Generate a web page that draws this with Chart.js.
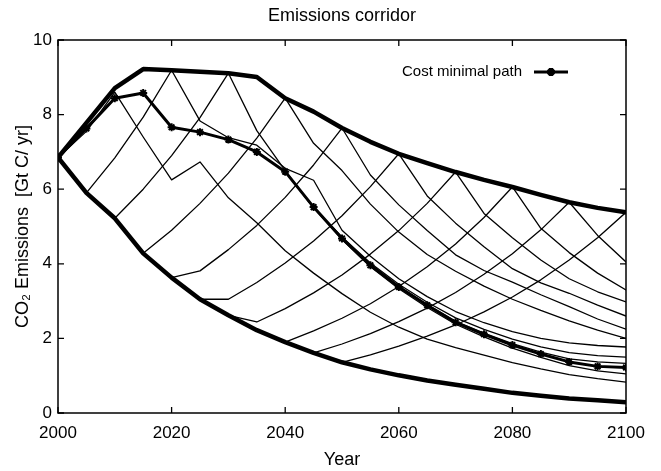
<!DOCTYPE html>
<html><head><meta charset="utf-8">
<script src="https://cdn.jsdelivr.net/npm/chart.js@4/dist/chart.umd.min.js"></script>
<style>html,body{margin:0;padding:0;background:#fff;}#wrap{width:661px;height:471px;}</style>
</head><body><div id="wrap"><canvas id="c" width="661" height="471"></canvas></div>
<script>
// ---- data ----
const years = [2000,2005,2010,2015,2020,2025,2030,2035,2040,2045,2050,2055,2060,2065,2070,2075,2080,2085,2090,2095,2100];
const xTicks = [2000,2020,2040,2060,2080,2100];
const yTicks = [0,2,4,6,8,10];

const upperBound = [6.85,7.78,8.71,9.22,9.19,9.15,9.11,9.01,8.44,8.08,7.64,7.27,6.95,6.70,6.46,6.25,6.06,5.85,5.65,5.50,5.38];
const lowerBound = [6.85,5.90,5.22,4.28,3.63,3.05,2.62,2.22,1.90,1.61,1.36,1.17,1.01,0.87,0.76,0.65,0.54,0.46,0.39,0.34,0.29];
const costMinimal = [6.85,7.63,8.44,8.58,7.66,7.53,7.33,7.00,6.47,5.52,4.68,3.96,3.38,2.89,2.43,2.11,1.82,1.58,1.37,1.25,1.22];

// paths rising from the lower bound
const rise2005 = [null,5.90,6.84,7.93,9.19,null,null,null,null,null,null,null,null,null,null,null,null,null,null,null,null];
const rise2010 = [null,null,5.22,6.00,6.90,7.92,9.11,null,null,null,null,null,null,null,null,null,null,null,null,null,null];
const rise2015 = [null,null,null,4.28,4.90,5.62,6.43,7.37,8.44,null,null,null,null,null,null,null,null,null,null,null,null];
const rise2020 = [null,null,null,null,3.63,3.81,4.38,5.03,5.78,6.65,7.64,null,null,null,null,null,null,null,null,null,null];
const rise2025 = [null,null,null,null,null,3.05,3.05,3.50,4.02,4.61,5.29,6.07,6.95,null,null,null,null,null,null,null,null];
const rise2030 = [null,null,null,null,null,null,2.62,2.44,2.80,3.22,3.70,4.26,4.89,5.62,6.46,null,null,null,null,null,null];
const rise2040 = [null,null,null,null,null,null,null,null,1.90,2.20,2.54,2.93,3.39,3.92,4.53,5.24,6.06,null,null,null,null];
const rise2045 = [null,null,null,null,null,null,null,null,null,1.61,1.85,2.13,2.45,2.81,3.23,3.72,4.27,4.91,5.65,null,null];
const rise2050 = [null,null,null,null,null,null,null,null,null,null,1.36,1.56,1.79,2.06,2.36,2.71,3.11,3.57,4.10,4.70,5.38];

// paths falling from the upper bound
const fall2010 = [6.85,7.55,8.60,7.40,6.25,6.73,5.77,5.10,4.35,3.75,3.20,2.70,2.30,1.98,1.75,1.55,1.35,1.18,1.03,0.92,0.83];
const fall2020 = [null,null,null,null,9.19,7.83,7.38,7.18,6.56,6.24,4.90,4.20,3.60,3.12,2.72,2.42,2.18,2.00,1.88,1.81,1.77];
const fall2030 = [null,null,null,null,null,null,9.11,7.57,6.50,5.50,4.72,4.02,3.45,2.97,2.55,2.24,1.98,1.77,1.62,1.54,1.50];
const fall2040 = [null,null,null,null,null,null,null,null,8.44,7.23,6.50,5.60,4.85,4.25,3.80,3.40,3.05,2.75,2.47,2.22,2.00];
const fall2050 = [null,null,null,null,null,null,null,null,null,null,7.64,6.38,5.58,4.89,4.24,3.82,3.51,3.17,2.85,2.52,2.25];
const fall2060 = [null,null,null,null,null,null,null,null,null,null,null,null,6.95,5.82,5.09,4.46,3.87,3.49,3.21,2.89,2.60];
const fall2070 = [null,null,null,null,null,null,null,null,null,null,null,null,null,null,6.46,5.35,4.70,4.10,3.60,3.25,2.98];
const fall2080 = [null,null,null,null,null,null,null,null,null,null,null,null,null,null,null,null,6.06,4.95,4.30,3.75,3.30];
const fall2090 = [null,null,null,null,null,null,null,null,null,null,null,null,null,null,null,null,null,null,5.65,4.76,4.05];

// thin paths running alongside the cost-minimal path
const nearCostA = [6.85,7.63,8.44,8.58,7.66,7.53,7.33,7.00,6.47,5.52,4.70,3.99,3.40,2.91,2.46,2.14,1.86,1.63,1.45,1.37,1.33];
const nearCostB = [6.85,7.63,8.44,8.58,7.66,7.53,7.33,7.00,6.47,5.50,4.65,3.92,3.33,2.83,2.38,2.04,1.74,1.49,1.27,1.13,1.05];

const thinPaths = [rise2005,rise2010,rise2015,rise2020,rise2025,rise2030,rise2040,rise2045,rise2050,
                   fall2010,fall2020,fall2030,fall2040,fall2050,fall2060,fall2070,fall2080,fall2090,
                   nearCostA,nearCostB];

const chartTitle = 'Emissions corridor';
const xTitle = 'Year';
const yTitle = 'CO₂ Emissions  [Gt C/ yr]';
const legendLabel = 'Cost minimal path';

// ---- chart ----
const FONT = '"Liberation Sans", Arial, Helvetica, sans-serif';
Chart.defaults.font.family = FONT;
Chart.defaults.color = '#000';

const toPts = arr => years.map((x,i) => ({x:x, y:arr[i]}));

const datasets = [];
datasets.push({label:legendLabel, data:toPts(costMinimal), borderColor:'#000', backgroundColor:'#000',
  borderWidth:3, pointStyle:'star', pointRadius:4, pointBorderWidth:2, pointBorderColor:'#000', order:0});
datasets.push({label:'upper', data:toPts(upperBound), borderColor:'#000', borderWidth:4.5, pointRadius:0, order:1});
datasets.push({label:'lower', data:toPts(lowerBound), borderColor:'#000', borderWidth:4.5, pointRadius:0, order:1});
thinPaths.forEach((p,i) => datasets.push({label:'path'+i, data:toPts(p), borderColor:'#000', borderWidth:1.3, pointRadius:0, order:2}));

const framePlugin = {
  id:'frame',
  afterDatasetsDraw(chart){
    const ctx = chart.ctx, xs = chart.scales.x, ys = chart.scales.y;
    const {left,right,top,bottom} = chart.chartArea;
    ctx.save();
    ctx.strokeStyle = '#000';
    ctx.lineWidth = 1.3;
    ctx.beginPath();
    xTicks.forEach(v => { const p = xs.getPixelForValue(v);
      ctx.moveTo(p,bottom); ctx.lineTo(p,bottom-6); ctx.moveTo(p,top); ctx.lineTo(p,top+6); });
    yTicks.forEach(v => { const p = ys.getPixelForValue(v);
      ctx.moveTo(left,p); ctx.lineTo(left+6,p); ctx.moveTo(right,p); ctx.lineTo(right-6,p); });
    ctx.stroke();
    ctx.lineWidth = 1.5;
    ctx.strokeRect(left,top,right-left,bottom-top);
    // title centred over the plot area
    ctx.fillStyle = '#000';
    ctx.font = '18px ' + FONT;
    ctx.textAlign = 'center';
    ctx.textBaseline = 'middle';
    ctx.fillText(chartTitle, (left+right)/2, 16);
    // legend
    const ds = chart.data.datasets[0];
    ctx.font = '15px ' + FONT;
    ctx.textAlign = 'right';
    ctx.fillText(ds.label, 522, 72);
    ctx.lineWidth = ds.borderWidth;
    ctx.beginPath(); ctx.moveTo(534,72); ctx.lineTo(568,72); ctx.stroke();
    Chart.helpers.drawPoint(ctx, {pointStyle:'star', radius:4, borderWidth:2}, 551, 72);
    ctx.restore();
  }
};

new Chart(document.getElementById('c'), {
  type:'line',
  data:{datasets:datasets},
  options:{
    responsive:false, animation:false, devicePixelRatio:1,
    layout:{padding:{left:0,right:35,top:40,bottom:0}},
    elements:{line:{tension:0, borderCapStyle:'round', borderJoinStyle:'round'}},
    plugins:{ legend:{display:false}, tooltip:{enabled:false}, title:{display:false} },
    scales:{
      x:{type:'linear', min:2000, max:2100,
        afterBuildTicks(s){ s.ticks = xTicks.map(v=>({value:v})); },
        afterFit(s){ s.height = 58; },
        grid:{display:false, drawTicks:false}, border:{display:false},
        ticks:{font:{size:17}, color:'#000', padding:10, maxRotation:0, callback:v=>String(v)},
        title:{display:true, text:xTitle, color:'#000', font:{size:18}, padding:{top:0,bottom:0}}
      },
      y:{type:'linear', min:0, max:10,
        afterBuildTicks(s){ s.ticks = yTicks.map(v=>({value:v})); },
        afterFit(s){ s.width = 58; },
        grid:{display:false, drawTicks:false}, border:{display:false},
        ticks:{font:{size:17}, color:'#000', padding:6, callback:v=>String(v)},
        title:{display:true, text:yTitle, color:'#000', font:{size:18}, padding:{top:12,bottom:0}}
      }
    }
  },
  plugins:[framePlugin]
});
</script></body></html>
